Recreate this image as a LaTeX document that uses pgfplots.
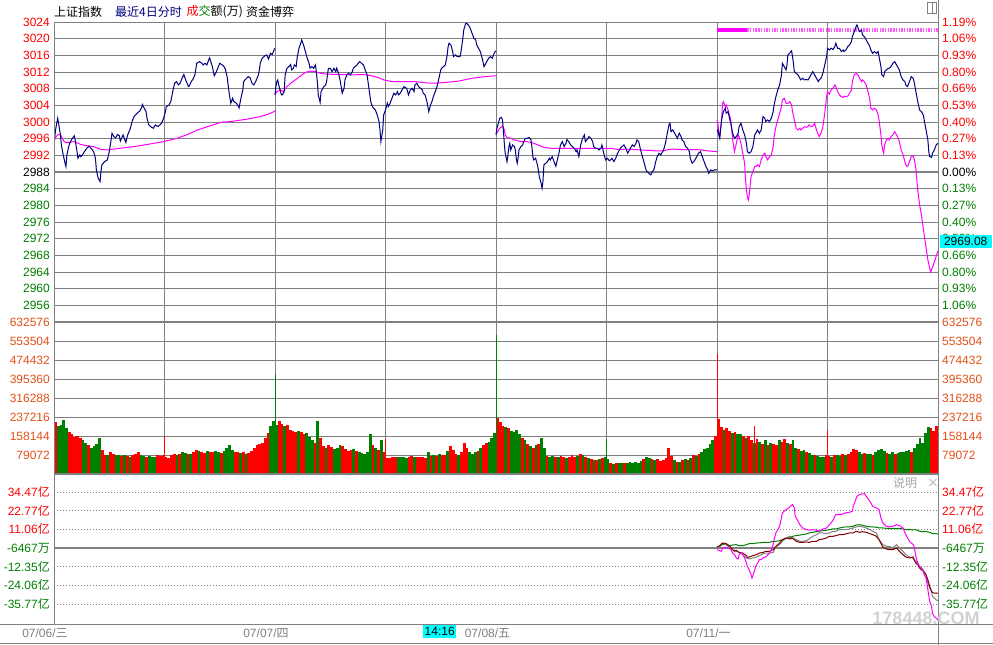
\documentclass[border=0pt]{standalone}
\usepackage{pgfplots}
\pgfplotsset{compat=1.18}
\usepackage{pgfplotstable}
\usepackage{fontspec}
\setmainfont{Liberation Sans}
\newfontfamily\cjk{Noto Sans CJK SC}
\definecolor{navyc}{RGB}{0,0,128}
\definecolor{mag}{RGB}{255,0,255}
\definecolor{gr}{RGB}{0,128,0}
\definecolor{rd}{RGB}{255,0,0}
\definecolor{gridc}{RGB}{128,128,128}
\definecolor{volc}{RGB}{228,80,24}
\definecolor{maroonc}{RGB}{128,0,0}
\definecolor{cyanc}{RGB}{0,255,255}
\definecolor{datec}{RGB}{128,128,128}

\pgfplotstableread{
t v c
1.5 215 1
4.5 200 0
7.5 205 0
10.5 225 0
13.5 190 0
16.5 175 1
19.5 165 1
22.5 155 1
25.5 160 1
28.5 150 1
31.5 140 0
34.5 130 0
37.5 120 1
40.5 110 0
43.5 115 0
46.5 125 0
49.5 150 0
52.5 100 1
55.5 80 1
58.5 78 0
61.5 90 1
64.5 85 1
67.5 78 0
70.5 80 0
73.5 75 1
76.5 78 0
79.5 76 1
82.5 70 0
85.5 80 1
88.5 82 1
91.5 90 1
94.5 78 0
97.5 76 0
100.5 72 1
103.5 75 0
106.5 70 0
109.5 72 0
112.5 78 1
115.5 75 1
118.5 80 1
121.5 70 1
124.5 68 1
127.5 80 1
130.5 85 1
133.5 80 0
136.5 82 1
139.5 90 0
142.5 88 0
145.5 85 1
148.5 82 0
151.5 90 1
154.5 100 1
157.5 95 0
160.5 92 1
163.5 88 1
166.5 95 0
169.5 92 1
172.5 90 1
175.5 95 0
178.5 90 0
181.5 88 1
184.5 95 0
187.5 110 0
190.5 120 0
193.5 100 0
196.5 90 1
199.5 92 1
202.5 88 0
205.5 90 1
208.5 85 0
211.5 88 1
214.5 95 1
217.5 110 1
220.5 120 1
223.5 125 1
226.5 130 1
229.5 150 1
232.5 170 1
235.5 200 0
238.5 220 0
241.5 205 0
244.5 220 1
247.5 210 1
250.5 200 0
253.5 205 1
256.5 185 1
259.5 180 1
262.5 175 1
265.5 180 0
268.5 175 1
271.5 165 1
274.5 170 0
277.5 155 0
280.5 140 0
283.5 130 1
286.5 220 0
289.5 150 1
292.5 115 1
295.5 110 0
298.5 120 1
301.5 112 1
304.5 105 0
307.5 110 0
310.5 120 0
313.5 115 1
316.5 105 1
319.5 95 1
322.5 100 1
325.5 105 0
328.5 95 1
331.5 90 0
334.5 88 0
337.5 85 0
340.5 90 0
343.5 165 0
346.5 120 1
349.5 110 0
352.5 100 1
355.5 140 0
358.5 90 1
361.5 68 1
364.5 68 1
367.5 72 1
370.5 70 1
373.5 72 0
376.5 70 0
379.5 72 0
382.5 68 0
385.5 70 1
388.5 75 1
391.5 70 0
394.5 72 1
397.5 70 1
400.5 70 1
403.5 68 1
406.5 90 0
409.5 75 1
412.5 80 0
415.5 75 1
418.5 85 0
421.5 80 1
424.5 78 1
427.5 95 0
430.5 115 1
433.5 100 1
436.5 85 1
439.5 80 0
442.5 90 1
445.5 130 1
448.5 110 1
451.5 90 0
454.5 85 0
457.5 90 0
460.5 95 1
463.5 110 0
466.5 120 1
469.5 130 1
472.5 135 0
475.5 150 0
478.5 170 0
481.5 235 1
484.5 215 1
487.5 200 1
490.5 195 0
493.5 190 1
496.5 180 0
499.5 175 0
502.5 185 0
505.5 165 0
508.5 150 1
511.5 140 0
514.5 125 1
517.5 115 0
520.5 110 1
523.5 120 0
526.5 125 1
529.5 150 0
532.5 110 0
535.5 75 1
538.5 72 0
541.5 75 0
544.5 70 1
547.5 72 0
550.5 75 1
553.5 70 1
556.5 68 0
559.5 72 1
562.5 78 1
565.5 70 1
568.5 75 0
571.5 82 1
574.5 78 0
577.5 70 1
580.5 65 0
583.5 62 1
586.5 58 0
589.5 60 1
592.5 62 0
595.5 66 1
598.5 72 0
601.5 62 0
604.5 45 1
607.5 42 0
610.5 44 1
613.5 46 0
616.5 45 0
619.5 47 1
622.5 46 0
625.5 48 0
628.5 45 0
631.5 48 0
634.5 46 0
637.5 55 0
640.5 62 1
643.5 70 0
646.5 68 0
649.5 62 1
652.5 60 0
655.5 62 1
658.5 55 1
661.5 58 1
664.5 65 1
667.5 110 1
670.5 75 1
673.5 58 0
676.5 50 1
679.5 52 0
682.5 58 1
685.5 62 0
688.5 58 1
691.5 65 0
694.5 78 1
697.5 75 0
700.5 82 1
703.5 90 0
706.5 105 0
709.5 110 0
712.5 125 0
715.5 140 0
718.5 160 1
721.5 230 1
724.5 195 1
727.5 185 0
730.5 190 1
733.5 180 1
736.5 170 0
739.5 175 1
742.5 165 0
745.5 168 0
748.5 160 1
751.5 150 0
754.5 158 1
757.5 140 1
760.5 130 0
763.5 145 1
766.5 135 0
769.5 125 1
772.5 140 0
775.5 120 1
778.5 130 0
781.5 125 1
784.5 120 1
787.5 140 0
790.5 135 1
793.5 145 1
796.5 130 0
799.5 125 1
802.5 140 0
805.5 110 0
808.5 105 1
811.5 95 0
814.5 100 0
817.5 92 1
820.5 88 0
823.5 80 0
826.5 78 1
829.5 75 0
832.5 72 0
835.5 70 0
838.5 78 1
841.5 75 1
844.5 70 0
847.5 80 1
850.5 78 0
853.5 75 0
856.5 85 1
859.5 80 0
862.5 82 1
865.5 90 1
868.5 105 1
871.5 100 1
874.5 90 0
877.5 85 0
880.5 88 1
883.5 82 0
886.5 85 0
889.5 80 1
892.5 90 0
895.5 100 0
898.5 105 0
901.5 95 0
904.5 88 1
907.5 85 0
910.5 90 0
913.5 85 1
916.5 88 0
919.5 90 0
922.5 92 0
925.5 95 0
928.5 100 0
931.5 90 1
934.5 110 0
937.5 125 0
940.5 150 0
943.5 130 0
946.5 170 0
949.5 195 0
952.5 190 1
955.5 180 1
958.5 200 1
}\voldata

\pgfplotsset{
  panel/.style={scale only axis, width=884pt, xmin=0, xmax=960, anchor=south west,
    axis line style={draw=none}, tick style={draw=none}, major tick length=0pt,
    xticklabels={}, yticklabels={}, clip=true},
}

\begin{document}
\begin{tikzpicture}[every node/.style={font=\fontsize{12}{14}\selectfont, inner sep=0pt}]
\useasboundingbox (0pt,0pt) rectangle (993pt,-645pt);
\fill[white] (0pt,0pt) rectangle (993pt,-645pt);

% ---------- price panel ----------
\begin{axis}[panel, at={(54pt,-322pt)}, height=300pt, ymin=2952, ymax=3024,
  ytick={2956,2960,...,3024}, xtick={120,240,...,840}, grid=major,
  major grid style={draw=gridc, line width=1pt},
  extra y ticks={2988}, extra y tick labels={},
  extra y tick style={grid=major, major grid style={draw=gridc, line width=2.2pt}}]
% day 1 average
\addplot[mag, line width=1pt, no markers] coordinates {(0,2994.5) (1,2996.1) (4,2996.9) (7,2997.0) (9,2996.1) (11,2995.3) (14,2995.0) (22,2995.3) (29,2994.6) (36,2994.3) (43,2994.1) (51,2993.4) (58,2993.3) (72,2993.7) (87,2994.1) (101,2994.6) (119,2995.3) (134,2996.1) (145,2997.0) (156,2998.1) (167,2998.9) (181,2999.9) (195,3000.2) (210,3000.7) (224,3001.3) (233,3001.9) (239,3002.5) (240,3002.7)};
% day 2 average
\addplot[mag, line width=1pt, no markers] coordinates {(240,3006.5) (242,3007.3) (246,3007.7) (249,3007.3) (253,3008.5) (257,3009.3) (262,3010.1) (268,3011.1) (273,3011.9) (278,3012.2) (284,3012.1) (289,3011.7) (295,3011.5) (309,3011.4) (324,3011.3) (335,3011.4) (345,3011.1) (353,3010.6) (358,3010.1) (367,3009.7) (382,3009.7) (392,3009.7) (403,3009.4) (414,3009.3) (425,3009.5) (439,3009.8) (454,3010.5) (468,3010.9) (480,3011.1)};
% day 3 average
\addplot[mag, line width=1pt, no markers] coordinates {(480,2997.3) (482,2997.7) (484,2998.5) (487,2999.0) (489,2998.1) (490,2996.9) (492,2996.3) (496,2996.1) (500,2995.7) (507,2995.3) (514,2995.3) (521,2994.9) (529,2994.2) (532,2993.9) (539,2993.7) (550,2993.7) (568,2993.7) (586,2993.7) (605,2993.7) (612,2993.4) (623,2993.5) (637,2993.3) (652,2993.1) (662,2993.1) (670,2993.5) (681,2993.4) (695,2993.4) (702,2993.3) (713,2993.0) (720,2992.9)};
% day 4 magenta series
\addplot[mag, line width=1pt, no markers] coordinates {(720,3000.5) (721,2999.7) (722,2997.3) (723,2996.5) (725,3000.5) (726,3004.5) (727,3004.9) (729,3003.7) (730,3004.1) (732,3002.9) (734,3001.3) (735,3000.5) (737,2995.7) (739,2992.9) (741,2994.9) (743,2996.9) (744,2996.5) (746,2994.9) (748,2992.5) (750,2990.1) (751,2986.1) (752,2983.7) (753,2982.0) (754,2981.3) (755,2982.5) (757,2986.9) (759,2988.1) (761,2989.3) (763,2989.4) (764,2989.7) (766,2989.3) (768,2990.9) (770,2992.1) (772,2992.5) (773,2991.7) (775,2990.9) (777,2991.7) (779,2992.1) (781,2994.1) (782,2996.5) (784,2998.9) (786,3000.5) (788,3002.1) (790,3003.7) (791,3005.3) (793,3005.7) (795,3004.5) (797,3004.5) (799,3004.9) (801,3004.1) (802,3002.5) (804,3000.5) (806,2998.5) (808,2998.1) (810,2998.5) (811,2998.1) (813,2998.5) (815,2998.9) (817,2998.7) (819,2999.0) (820,2999.3) (822,2998.9) (824,2999.0) (826,2999.7) (828,2998.1) (830,2996.9) (831,2996.5) (833,2997.3) (835,2998.9) (837,3002.1) (839,3006.1) (840,3007.3) (842,3006.7) (844,3007.7) (846,3008.1) (848,3008.9) (849,3008.5) (851,3007.3) (853,3006.5) (855,3006.1) (857,3005.9) (858,3006.2) (860,3006.1) (862,3006.2) (864,3006.9) (866,3007.7) (867,3009.7) (869,3011.3) (871,3011.7) (873,3011.3) (875,3010.5) (877,3009.7) (878,3010.1) (880,3009.7) (882,3008.9) (884,3007.3) (886,3005.3) (887,3003.3) (889,3002.9) (891,3003.3) (893,3002.9) (895,3001.7) (896,3000.5) (898,2996.9) (899,2994.5) (900,2993.3) (901,2992.5) (902,2994.5) (904,2995.7) (906,2996.1) (907,2995.7) (909,2996.5) (911,2996.9) (913,2997.7) (915,2996.9) (916,2996.5) (918,2995.3) (920,2993.3) (922,2992.1) (924,2990.5) (925,2989.7) (927,2989.3) (929,2990.5) (931,2991.7) (933,2991.9) (934,2991.3) (936,2988.9) (937,2986.1) (938,2983.7) (940,2980.1) (942,2977.7) (945,2972.9) (949,2966.9) (952,2964.0) (955,2965.7) (960,2969.1)};
% day 4 band at top
\addplot[mag, line width=4pt, no markers] coordinates {(720,3022.15) (753,3022.15)};
\addplot[mag!65, line width=4pt, no markers, dash pattern=on 1.4pt off 1.3pt] coordinates {(753,3022.15) (960,3022.15)};
% index, day 1
\addplot[navyc, line width=1pt, no markers] coordinates {(0,2994.9) (2,2998.5) (4,3000.9) (5,2999.7) (7,2996.9) (8,2994.5) (10,2992.1) (12,2990.1) (13,2989.3) (14,2992.1) (16,2994.1) (17,2994.9) (20,2996.1) (22,2996.7) (23,2995.7) (25,2992.9) (26,2991.3) (28,2992.1) (29,2991.7) (31,2992.1) (33,2992.9) (36,2993.8) (38,2994.2) (41,2993.5) (43,2992.9) (45,2991.3) (46,2988.5) (48,2986.5) (50,2985.7) (51,2988.1) (52,2989.7) (55,2990.5) (58,2990.9) (60,2992.9) (62,2995.7) (63,2997.3) (65,2996.5) (67,2996.2) (69,2997.0) (71,2996.7) (72,2995.4) (75,2996.9) (77,2995.7) (78,2995.1) (80,2996.9) (83,2998.5) (85,3000.3) (87,3001.3) (89,3001.8) (91,3002.3) (93,3002.6) (95,3003.4) (96,3004.2) (98,3003.3) (100,3002.5) (101,3000.9) (103,2999.3) (106,2998.7) (108,2998.5) (110,2999.3) (113,2998.9) (115,2999.3) (117,2999.7) (119,3000.9) (121,3002.5) (122,3003.7) (125,3004.1) (127,3005.0) (129,3007.4) (131,3009.3) (133,3009.7) (135,3008.9) (137,3009.3) (139,3010.5) (141,3011.4) (143,3010.1) (146,3008.5) (147,3008.7) (149,3009.7) (151,3010.3) (153,3011.3) (155,3014.1) (158,3014.5) (160,3014.2) (162,3013.7) (164,3014.1) (166,3013.7) (168,3014.9) (169,3015.4) (172,3013.3) (174,3011.1) (176,3011.9) (178,3013.0) (180,3014.1) (182,3013.8) (184,3013.5) (186,3012.7) (188,3010.9) (190,3007.3) (192,3004.5) (194,3005.7) (195,3005.0) (198,3004.5) (200,3003.9) (201,3003.4) (203,3005.7) (205,3007.7) (206,3009.7) (209,3010.5) (211,3010.9) (213,3010.6) (215,3009.3) (217,3008.9) (219,3009.7) (222,3011.3) (223,3012.5) (224,3014.1) (226,3015.3) (229,3015.9) (231,3016.1) (233,3015.1) (235,3016.5) (237,3016.2) (239,3017.3) (240,3017.7)};
% index, day 2
\addplot[navyc, line width=1pt, no markers] coordinates {(240,3006.5) (241,3008.5) (242,3009.7) (243,3010.1) (244,3008.9) (245,3008.1) (247,3006.5) (248,3006.5) (250,3007.3) (251,3011.3) (253,3012.9) (255,3013.3) (257,3013.8) (258,3012.5) (260,3012.9) (261,3013.7) (263,3013.3) (264,3015.3) (266,3017.7) (268,3018.9) (269,3019.7) (271,3018.5) (273,3016.9) (275,3015.3) (277,3014.1) (278,3012.9) (280,3013.3) (282,3012.9) (284,3013.7) (286,3009.7) (287,3006.5) (289,3004.7) (290,3007.3) (293,3008.5) (295,3008.9) (296,3009.7) (298,3012.9) (300,3012.9) (302,3012.1) (304,3012.9) (306,3012.1) (307,3012.9) (309,3011.7) (311,3009.7) (313,3006.9) (315,3008.1) (316,3010.1) (318,3011.3) (320,3011.7) (322,3011.3) (324,3012.1) (325,3012.9) (327,3013.3) (329,3013.7) (332,3014.5) (334,3014.1) (336,3013.7) (338,3012.5) (340,3011.3) (342,3008.1) (344,3004.9) (345,3004.1) (347,3003.3) (349,3002.9) (351,3001.7) (353,3000.1) (354,2998.1) (355,2995.3) (357,2998.1) (358,3001.7) (360,3002.9) (362,3004.5) (363,3003.7) (365,3004.5) (367,3005.7) (369,3006.9) (371,3006.5) (373,3007.3) (374,3006.5) (376,3006.9) (378,3007.7) (380,3008.5) (382,3008.2) (383,3008.1) (385,3006.5) (387,3007.7) (389,3008.1) (391,3007.3) (392,3008.9) (394,3009.3) (396,3008.5) (398,3008.1) (400,3007.7) (401,3006.9) (403,3006.5) (405,3004.9) (407,3002.5) (409,3004.1) (411,3005.3) (412,3006.1) (414,3007.3) (416,3008.5) (418,3010.5) (420,3012.5) (421,3012.9) (423,3013.3) (425,3013.7) (427,3016.1) (428,3018.1) (429,3018.9) (431,3018.5) (432,3017.7) (434,3015.7) (436,3016.1) (438,3015.7) (439,3015.7) (441,3015.7) (442,3016.9) (444,3020.1) (445,3022.1) (447,3023.6) (448,3023.7) (450,3023.3) (452,3022.5) (454,3021.3) (456,3020.1) (458,3019.7) (459,3018.5) (461,3017.7) (463,3016.9) (465,3015.3) (467,3013.3) (468,3013.7) (470,3014.5) (472,3015.3) (474,3015.7) (476,3015.3) (478,3016.5) (479,3016.9) (480,3017.0)};
% index, day 3
\addplot[navyc, line width=1pt, no markers] coordinates {(480,2996.9) (481,2998.5) (483,3000.1) (484,3000.9) (486,3001.1) (487,3000.5) (488,2998.1) (489,2994.9) (490,2992.5) (492,2990.5) (493,2992.1) (494,2994.1) (495,2994.9) (496,2993.3) (498,2994.5) (500,2994.1) (501,2993.3) (502,2991.3) (503,2990.1) (504,2991.3) (505,2993.3) (507,2994.1) (509,2994.5) (510,2995.3) (512,2996.1) (514,2996.1) (516,2996.3) (518,2995.7) (519,2994.1) (520,2991.7) (521,2990.9) (523,2991.3) (525,2989.7) (526,2988.5) (527,2986.9) (529,2985.3) (530,2984.1) (531,2985.7) (532,2989.7) (534,2990.1) (536,2990.5) (538,2991.3) (539,2990.9) (541,2991.7) (543,2990.5) (545,2989.4) (547,2991.3) (548,2992.1) (550,2994.5) (552,2995.3) (554,2994.1) (556,2994.9) (557,2995.8) (559,2995.3) (561,2994.5) (563,2994.1) (565,2993.7) (567,2992.9) (568,2993.3) (570,2991.7) (572,2994.5) (574,2996.1) (576,2996.9) (577,2995.3) (579,2995.8) (581,2996.5) (583,2996.1) (585,2995.3) (586,2994.1) (588,2993.7) (590,2993.7) (592,2993.3) (594,2993.7) (595,2994.5) (597,2992.5) (599,2990.9) (601,2991.3) (603,2990.7) (605,2991.0) (606,2991.3) (608,2990.5) (610,2991.3) (612,2992.5) (614,2993.3) (615,2993.7) (617,2994.1) (619,2994.5) (621,2993.7) (623,2992.5) (625,2993.3) (626,2993.7) (628,2994.5) (630,2994.1) (632,2994.9) (633,2995.7) (635,2995.3) (637,2993.3) (639,2991.7) (641,2990.1) (643,2988.5) (644,2988.1) (646,2987.7) (648,2987.3) (650,2988.1) (652,2988.9) (653,2990.1) (655,2991.7) (657,2992.5) (659,2992.1) (661,2992.9) (662,2993.3) (664,2994.9) (666,2997.3) (668,2999.5) (669,2999.7) (670,2997.7) (672,2998.1) (673,2997.7) (675,2996.9) (677,2996.1) (679,2997.3) (681,2996.5) (682,2995.7) (684,2995.3) (686,2994.1) (688,2993.7) (690,2992.9) (691,2991.3) (693,2990.1) (695,2990.5) (697,2991.3) (699,2992.1) (700,2992.5) (702,2992.9) (704,2991.7) (706,2990.5) (708,2989.3) (710,2988.5) (711,2987.7) (713,2988.5) (715,2988.3) (717,2988.5) (719,2988.5) (720,2988.6)};
% index, day 4
\addplot[navyc, line width=1pt, no markers] coordinates {(720,2997.7) (721,2998.1) (722,2996.9) (723,2996.1) (725,3000.5) (726,3001.7) (727,3002.5) (729,3003.3) (730,3002.1) (732,3002.5) (734,3000.5) (735,2999.7) (737,2997.3) (739,2996.1) (741,2996.5) (743,2997.3) (744,2998.9) (746,2999.7) (748,2998.1) (750,2996.9) (752,2994.9) (753,2992.9) (755,2992.5) (757,2992.9) (759,2994.1) (761,2996.9) (763,2997.7) (764,2998.1) (766,2997.3) (768,2998.1) (770,3001.3) (772,3000.9) (773,3000.1) (775,3000.5) (777,3000.1) (779,3000.9) (781,3002.5) (782,3004.1) (784,3006.1) (786,3007.7) (788,3008.9) (790,3011.3) (791,3014.1) (793,3013.3) (795,3012.5) (796,3013.7) (797,3016.1) (799,3016.5) (800,3016.9) (801,3017.1) (802,3015.7) (803,3014.1) (804,3012.1) (806,3011.7) (808,3011.3) (810,3010.5) (811,3010.1) (813,3010.5) (815,3010.1) (817,3010.2) (819,3010.1) (820,3010.5) (822,3011.3) (824,3012.1) (826,3011.3) (828,3010.5) (830,3009.7) (831,3010.1) (833,3010.5) (835,3011.7) (837,3013.7) (839,3015.7) (840,3017.7) (842,3017.3) (844,3017.7) (846,3017.4) (848,3018.1) (849,3018.9) (851,3017.7) (853,3017.7) (855,3016.9) (857,3017.3) (858,3016.9) (860,3017.3) (862,3018.1) (864,3018.5) (866,3019.3) (867,3020.5) (869,3021.7) (871,3022.9) (872,3023.3) (874,3022.1) (875,3021.7) (877,3022.1) (878,3020.9) (880,3020.5) (882,3019.7) (884,3018.9) (886,3018.1) (887,3017.3) (889,3016.5) (891,3016.9) (893,3016.5) (895,3016.9) (896,3015.7) (898,3013.3) (899,3011.3) (901,3010.9) (902,3012.1) (904,3012.5) (906,3012.9) (907,3012.9) (909,3013.3) (911,3014.1) (913,3014.5) (915,3013.7) (916,3013.3) (918,3012.5) (920,3010.9) (922,3010.1) (924,3009.7) (925,3008.9) (927,3008.5) (929,3009.7) (931,3010.9) (933,3010.5) (934,3009.7) (936,3007.3) (938,3004.9) (940,3002.9) (942,3002.5) (944,3001.7) (945,3000.5) (947,2998.1) (949,2995.7) (950,2992.9) (951,2991.7) (953,2991.5) (954,2992.5) (956,2993.3) (958,2994.5) (960,2994.9)};
\end{axis}

% ---------- volume panel ----------
\begin{axis}[panel, at={(54pt,-474pt)}, height=152pt, ymin=0, ymax=634,
  ytick={79.072,158.144,237.216,316.288,395.36,474.432,553.504,632.576},
  xtick={120,240,...,840}, grid=major, major grid style={draw=gridc, line width=1pt}]
\addplot[ycomb, rd, line width=2.76pt, no markers,
  restrict expr to domain={\thisrow{c}}{0.5:1.5}] table[x=t, y=v] {\voldata};
\addplot[ycomb, gr, line width=2.76pt, no markers,
  restrict expr to domain={\thisrow{c}}{-0.5:0.5}] table[x=t, y=v] {\voldata};
\addplot[ycomb, gr, line width=1pt, no markers] coordinates {(240.5,416) (480.5,579) (600.5,148)};
\addplot[ycomb, rd, line width=1pt, no markers] coordinates {(119.5,160) (360.5,145) (720.5,500) (760.5,200) (840.5,183)};
\end{axis}

% ---------- fund flow panel ----------
\begin{axis}[panel, at={(54pt,-624pt)}, height=149pt, ymin=-48.3, ymax=45.13,
  ytick={-35.77,-24.06,-12.35,11.06,22.77,34.47}, xtick=\empty, ymajorgrids,
  major grid style={draw=gridc, line width=0.9pt, dash pattern=on 1pt off 2pt},
  extra y ticks={-0.6467}, extra y tick labels={},
  extra y tick style={ymajorgrids, major grid style={draw=gridc, line width=1.6pt, solid}}]
\addplot[gr, line width=1pt, no markers] coordinates {(720,0.0) (723,0.41) (726,1.46) (730,1.46) (734,0.83) (737,1.25) (741,1.46) (744,0.83) (748,0.83) (752,1.46) (755,2.1) (759,2.1) (763,2.5) (766,2.5) (770,2.9) (773,2.9) (777,2.9) (781,3.56) (784,3.56) (788,3.98) (791,4.6) (795,5.2) (799,5.9) (802,6.7) (806,7.1) (810,7.5) (813,7.75) (817,8.2) (820,8.8) (824,9.2) (828,9.6) (831,9.84) (835,10.3) (839,10.5) (842,10.9) (846,11.3) (849,11.3) (853,11.9) (857,12.4) (860,12.6) (864,12.6) (868,13.0) (871,13.8) (875,14.0) (878,13.6) (882,13.0) (886,12.6) (889,12.6) (893,12.4) (896,11.9) (900,11.9) (904,11.7) (907,11.7) (911,11.7) (915,11.5) (918,11.7) (922,11.3) (925,10.9) (929,10.9) (933,10.7) (936,10.9) (940,9.84) (944,9.6) (947,9.6) (951,9.2) (954,8.4) (960,8.2)};
\addplot[gridc, line width=1pt, no markers] coordinates {(720,0.0) (723,0.41) (726,2.1) (730,1.46) (734,-0.6) (737,-1.7) (741,-2.7) (744,-3.4) (748,-4.8) (752,-6.9) (755,-7.5) (759,-6.9) (763,-6.3) (766,-5.4) (770,-4.2) (773,-3.8) (777,-3.8) (781,-3.4) (784,0.0) (788,1.46) (791,3.56) (795,5.65) (799,6.7) (802,5.65) (806,4.6) (810,3.56) (813,3.56) (817,3.98) (820,5.0) (824,6.7) (828,7.75) (831,8.8) (835,8.8) (839,8.4) (842,8.8) (846,9.84) (849,9.84) (853,10.9) (857,10.9) (860,10.9) (864,11.3) (868,11.9) (871,12.6) (875,13.0) (878,12.6) (882,11.9) (886,10.9) (889,9.84) (893,8.8) (896,4.6) (900,1.46) (904,0.41) (907,0.41) (911,-0.6) (915,1.46) (918,-0.6) (922,-2.7) (925,-4.8) (929,-6.3) (933,-6.9) (936,-9.0) (940,-12.2) (944,-14.3) (947,-17.4) (949,-22.6) (951,-25.8) (953,-27.9) (954,-31.0) (956,-32.1) (958,-33.1) (960,-33.7)};
\addplot[maroonc, line width=1pt, no markers] coordinates {(720,0.0) (723,0.83) (725,2.1) (726,2.5) (730,2.1) (734,0.41) (737,-1.7) (739,-2.7) (741,-2.1) (744,-3.4) (748,-3.8) (752,-5.4) (753,-6.5) (755,-6.3) (759,-5.4) (763,-4.8) (766,-3.8) (770,-3.4) (773,-2.7) (777,-2.7) (781,-1.7) (784,0.41) (788,2.5) (791,4.6) (795,5.65) (799,5.0) (802,5.65) (806,3.56) (810,2.9) (813,2.9) (817,3.1) (820,2.9) (824,3.56) (828,3.56) (831,4.6) (835,5.0) (839,5.65) (842,6.7) (846,6.7) (849,7.1) (853,7.75) (857,7.75) (860,8.2) (864,8.8) (868,8.8) (871,9.84) (875,9.2) (878,9.6) (882,9.2) (886,8.4) (889,7.75) (893,6.7) (896,4.6) (900,0.0) (904,-1.3) (907,-1.7) (911,-1.7) (915,-0.6) (918,-2.7) (922,-4.8) (925,-6.3) (929,-6.9) (933,-6.3) (934,-8.0) (936,-10.1) (938,-11.1) (940,-13.2) (944,-15.3) (947,-17.4) (949,-20.5) (951,-24.7) (953,-27.9) (954,-28.5) (956,-28.9) (958,-28.9) (960,-28.9)};
\addplot[mag, line width=1pt, no markers] coordinates {(720,-1.7) (722,-2.1) (725,-2.7) (726,-0.6) (730,-0.2) (733,-0.6) (735,-1.7) (737,-3.8) (739,-4.8) (741,-6.9) (743,-7.5) (744,-4.8) (746,-3.8) (748,-4.8) (750,-6.9) (752,-10.1) (753,-12.2) (755,-14.3) (757,-17.4) (758,-19.5) (760,-16.3) (762,-12.2) (764,-10.1) (766,-8.0) (768,-8.0) (770,-6.9) (773,-6.3) (777,-3.8) (779,-1.7) (781,1.46) (782,4.6) (784,8.8) (786,10.9) (788,13.0) (790,18.2) (791,21.4) (793,22.4) (795,23.5) (797,23.9) (799,25.1) (801,26.0) (802,26.6) (804,24.5) (805,19.3) (807,17.2) (810,14.0) (813,11.9) (817,10.9) (820,10.5) (824,10.9) (828,10.5) (831,9.84) (835,11.3) (839,11.9) (842,14.0) (844,15.1) (846,16.8) (848,19.3) (849,20.3) (853,20.3) (857,20.7) (860,21.4) (864,21.8) (867,22.4) (868,25.55) (870,28.7) (872,31.8) (875,32.9) (878,33.3) (880,33.5) (882,31.8) (886,28.7) (889,25.55) (893,24.5) (896,23.5) (898,18.2) (900,15.1) (904,13.0) (907,12.6) (911,13.0) (915,14.0) (918,13.4) (922,11.9) (925,7.75) (929,3.56) (933,1.46) (934,0.41) (936,-5.9) (938,-10.1) (940,-12.2) (942,-13.2) (944,-15.3) (945,-17.4) (947,-19.5) (949,-26.8) (951,-34.2) (953,-37.3) (954,-41.5) (956,-43.6) (958,-44.6) (960,-45.7)};
\end{axis}

% ---------- frame lines ----------
\draw[gridc, line width=1pt] (54pt,-22pt) -- (54pt,-624pt);
\draw[gridc, line width=1pt] (938.5pt,0pt) -- (938.5pt,-645pt);
\draw[gridc, line width=1pt] (54pt,-22pt) -- (938.5pt,-22pt);
\draw[gridc, line width=2.2pt] (54pt,-322pt) -- (938.5pt,-322pt);
\draw[gridc, line width=1.5pt] (54pt,-474pt) -- (938.5pt,-474pt);
\draw[gridc, line width=1pt] (0pt,-624pt) -- (993pt,-624pt);
\draw[gridc, line width=1pt] (0pt,-643pt) -- (993pt,-643pt);
\draw[gridc, line width=0.8pt] (927pt,-2pt) rectangle (936pt,-13pt);
\draw[gridc, line width=0.8pt] (932pt,-2pt) -- (932pt,-13pt);

% ---------- title ----------
\node[anchor=west] at (54pt,-12pt) {\cjk 上证指数};
\node[anchor=west, text=navyc] at (115pt,-12pt) {\cjk 最近4日分时};
\node[anchor=west] at (186.5pt,-12pt) {\cjk {\color{rd}成}{\color{gr}交}额(万)};
\node[anchor=west] at (246pt,-12pt) {\cjk 资金博弈};

% ---------- price labels ----------
\foreach \v/\c in {3024/rd,3020/rd,3016/rd,3012/rd,3008/rd,3004/rd,3000/rd,2996/rd,2992/rd,2988/black,2984/gr,2980/gr,2976/gr,2972/gr,2968/gr,2964/gr,2960/gr,2956/gr}
  \node[anchor=east, text=\c] at (50pt,{-(22+(3024-\v)*4.16667)*1pt}) {\v};
\foreach \v/\p/\c in {3024/1.19/rd,3020/1.06/rd,3016/0.93/rd,3012/0.80/rd,3008/0.66/rd,3004/0.53/rd,3000/0.40/rd,2996/0.27/rd,2992/0.13/rd,2988/0.00/black,2984/0.13/gr,2980/0.27/gr,2976/0.40/gr,2972/0.53/gr,2968/0.66/gr,2964/0.80/gr,2960/0.93/gr,2956/1.06/gr}
  \node[anchor=west, text=\c] at (942pt,{-(22+(3024-\v)*4.16667)*1pt}) {\p\%};

% ---------- volume labels ----------
\foreach \k/\lab in {1/79072,2/158144,3/237216,4/316288,5/395360,6/474432,7/553504,8/632576} {
  \node[anchor=east, text=volc] at (50pt,{-(474-\k*18.95)*1pt}) {\lab};
  \node[anchor=west, text=volc] at (942pt,{-(474-\k*18.95)*1pt}) {\lab};
}

% ---------- fund flow labels ----------
\foreach \k/\lab/\c in {-3/34.47/rd,-2/22.77/rd,-1/11.06/rd,1/-12.35/gr,2/-24.06/gr,3/-35.77/gr} {
  \node[anchor=east, text=\c] at (50pt,{-(548+\k*18.67)*1pt}) {\lab{\cjk 亿}};
  \node[anchor=west, text=\c] at (942pt,{-(548+\k*18.67)*1pt}) {\lab{\cjk 亿}};
}
\node[anchor=east, text=gr] at (50pt,-548pt) {-6467{\cjk 万}};
\node[anchor=west, text=gr] at (942pt,-548pt) {-6467{\cjk 万}};

% ---------- misc ----------
\node[anchor=west, text=gray!70] at (893pt,-483pt) {\cjk 说明};
\node[anchor=west, text=gray!70] at (927pt,-483pt) {\cjk ×};
\node[fill=cyanc, minimum width=52pt, minimum height=12.5pt, anchor=west] at (939.5pt,-241.5pt) {2969.08};
\node[fill=cyanc, minimum width=33pt, minimum height=13.5pt] at (439.7pt,-631.5pt) {14:16};

% ---------- dates ----------
\node[text=datec] at (45pt,-633pt) {07/06/{\cjk 三}};
\node[text=datec] at (266pt,-633pt) {07/07/{\cjk 四}};
\node[text=datec] at (487.5pt,-633pt) {07/08/{\cjk 五}};
\node[text=datec] at (708.5pt,-633pt) {07/11/{\cjk 一}};

% ---------- watermark ----------
\node[text=gray!35, font=\fontsize{18}{18}\bfseries\selectfont] at (926pt,-618pt) {178448.COM};
\end{tikzpicture}
\end{document}
